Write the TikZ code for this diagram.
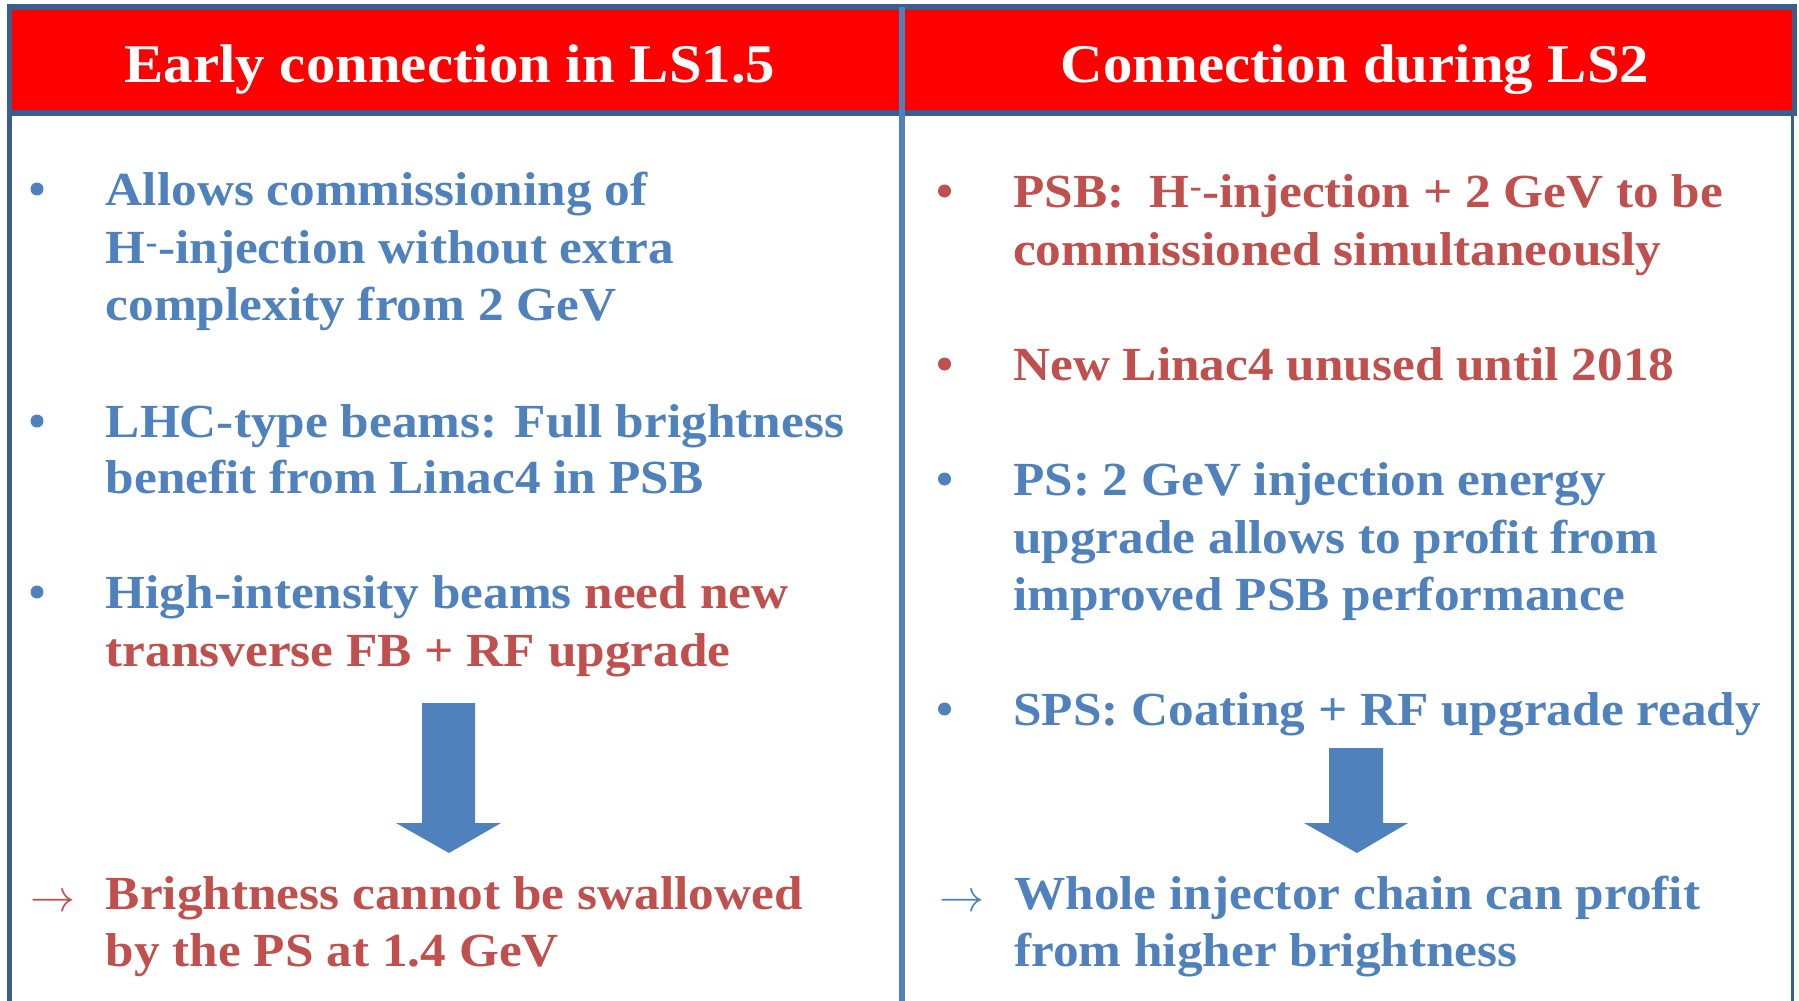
\documentclass[tikz,border=0pt]{standalone}
\usepackage{fontspec}
\setmainfont{Liberation Serif}[FakeStretch=1.08]
\definecolor{frameblue}{HTML}{3B5F8C}
\definecolor{divblue}{HTML}{4F81BD}
\definecolor{hdrred}{HTML}{FF0000}
\definecolor{txtblue}{HTML}{4F81BD}
\definecolor{txtred}{HTML}{C0504D}
\newcommand\bodyfnt{\fontsize{47.5}{57}\selectfont\bfseries}
\newcommand\hdrfnt{\fontsize{54.5}{60}\selectfont\bfseries}
\newcommand\bigarrow{\resizebox{45pt}{!}{$\rightarrow$}}
\tikzset{
  bl/.style={anchor=base west, inner sep=0pt, font=\bodyfnt},
  hdr/.style={anchor=base, inner sep=0pt, font=\hdrfnt, text=white},
  arr/.style={anchor=base west, inner sep=0pt},
  blockarrow/.style={fill=divblue},
}
\begin{document}
\begin{tikzpicture}[x=1pt,y=-1pt]
\useasboundingbox (0,0) rectangle (1799,1001);
\fill[white] (0,0) rectangle (1799,1001);
% frame
\fill[hdrred] (12,10) rectangle (1792,110);
\fill[frameblue] (7,4) rectangle (1797,10);
\fill[frameblue] (7,110) rectangle (1797,116);
\fill[frameblue] (7,4) rectangle (12,1001);
\fill[frameblue] (1792,4) rectangle (1797,116);
\fill[frameblue] (1791,116) rectangle (1793.5,1001);
\fill[divblue] (899,7) rectangle (905,1001);
% headers
\node[hdr] (hl) at (450,82) {Early connection in LS1.5};
\node[hdr] (hr) at (1355,82.5) {Connection during LS2};
% left column
\fill[txtblue] (37,189) circle (6.5);
\node[bl, text=txtblue] (l1a) at (105.6,205) {Allows commissioning of};
\node[bl, text=txtblue] (l1b) at (105.6,263) {H\textsuperscript{-}-injection without extra};
\node[bl, text=txtblue] (l1c) at (105.6,320) {complexity from 2 GeV};
\fill[txtblue] (37,421) circle (6.5);
\node[bl, text=txtblue] (l2a) at (105.6,437) {LHC-type beams: Full brightness};
\node[bl, text=txtblue] (l2b) at (105.6,493) {benefit from Linac4 in PSB};
\fill[txtblue] (37,592) circle (6.5);
\node[bl, text=txtblue] (l3a) at (105.6,608) {High-intensity beams \textcolor{txtred}{need new}};
\node[bl, text=txtred] (l3b) at (105.6,666) {transverse FB + RF upgrade};
\fill[blockarrow] (422,703) -- (475,703) -- (475,823) -- (501,823) -- (449,853) -- (396,823) -- (422,823) -- cycle;
\node[arr, text=txtred] (la) at (30,911) {\bigarrow};
\node[bl, text=txtred] (l4a) at (105.6,909) {Brightness cannot be swallowed};
\node[bl, text=txtred] (l4b) at (105.6,966) {by the PS at 1.4 GeV};
% right column
\fill[txtred] (944.5,191) circle (6.5);
\node[bl, text=txtred] (r1a) at (1013,207) {PSB:\ \ H\textsuperscript{-}-injection + 2 GeV to be};
\node[bl, text=txtred] (r1b) at (1013,265) {commissioned simultaneously};
\fill[txtred] (944.5,364) circle (6.5);
\node[bl, text=txtred] (r2a) at (1013,380) {New Linac4 unused until 2018};
\fill[txtblue] (944.5,479) circle (6.5);
\node[bl, text=txtblue] (r3a) at (1013,495) {PS: 2 GeV injection energy};
\node[bl, text=txtblue] (r3b) at (1013,553) {upgrade allows to profit from};
\node[bl, text=txtblue] (r3c) at (1013,610) {improved PSB performance};
\fill[txtblue] (944.5,709) circle (6.5);
\node[bl, text=txtblue] (r4a) at (1013,725) {SPS: Coating + RF upgrade ready};
\fill[blockarrow] (1329,748) -- (1383,748) -- (1383,823) -- (1408,823) -- (1357,853) -- (1304,823) -- (1329,823) -- cycle;
\node[arr, text=txtblue] (ra) at (939,911) {\bigarrow};
\node[bl, text=txtblue] (r5a) at (1014,909) {Whole injector chain can profit};
\node[bl, text=txtblue] (r5b) at (1014,966) {from higher brightness};
\end{tikzpicture}
\end{document}
